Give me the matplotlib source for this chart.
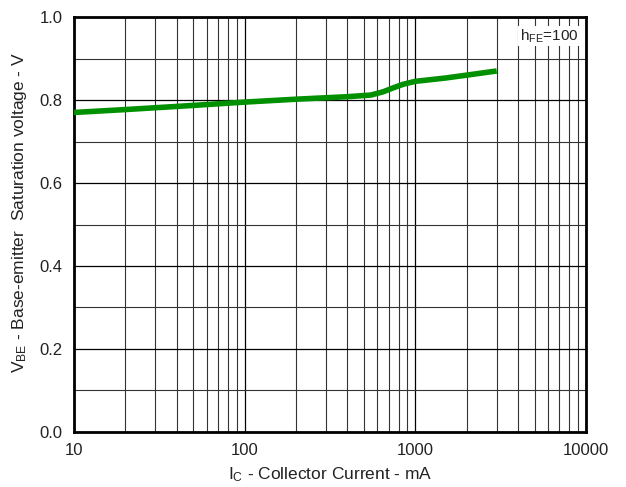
import matplotlib
matplotlib.use("Agg")
from matplotlib import pyplot as plt
from matplotlib.ticker import LogLocator, FixedLocator, NullFormatter

plt.rcParams['font.family'] = ['Liberation Sans', 'DejaVu Sans']
plt.rcParams['mathtext.fontset'] = 'custom'
plt.rcParams['mathtext.rm'] = 'Liberation Sans'
plt.rcParams['mathtext.it'] = 'Liberation Sans'

ic_ma = [10, 20, 50, 100, 200, 400, 550, 650, 750, 850, 1000, 1500, 2000, 3000]
vbe_sat = [0.770, 0.777, 0.787, 0.795, 0.802, 0.808, 0.812, 0.820, 0.830, 0.838, 0.845, 0.853, 0.860, 0.870]

x_ticks = [10, 100, 1000, 10000]
x_labels = ['10', '100', '1000', '10000']
y_ticks = [0.0, 0.2, 0.4, 0.6, 0.8, 1.0]

fig = plt.figure(figsize=(6.26, 4.87), dpi=100)
ax = fig.add_axes([0.118, 0.113, 0.818, 0.852])

ax.set_xscale('log')
ax.set_xlim(10, 10000)
ax.set_ylim(0, 1.0)

ax.xaxis.set_major_locator(FixedLocator(x_ticks))
ax.set_xticklabels(x_labels)
ax.xaxis.set_minor_locator(LogLocator(base=10, subs=range(2, 10)))
ax.xaxis.set_minor_formatter(NullFormatter())
ax.set_yticks(y_ticks)
ax.set_yticklabels([f'{v:.1f}' for v in y_ticks])
ax.yaxis.set_minor_locator(FixedLocator([0.1, 0.3, 0.5, 0.7, 0.9]))

ax.grid(which='major', color='black', linewidth=0.9)
ax.grid(which='minor', color='#333333', linewidth=0.8)
ax.tick_params(which='both', length=0, labelsize=12, colors='#222222')
ax.tick_params(axis='x', pad=8)
ax.tick_params(axis='y', pad=8)

for s in ax.spines.values():
    s.set_linewidth(2)

ax.plot(ic_ma, vbe_sat, color='#009000', linewidth=4, solid_capstyle='butt', zorder=3)

ax.text(0.985, 0.975, r'h$_{\mathregular{FE}}$=100', transform=ax.transAxes,
        ha='right', va='top', fontsize=11, color='#222222',
        bbox=dict(facecolor='white', edgecolor='none', pad=1))

ax.set_xlabel(r'I$_{\mathregular{C}}$ - Collector Current - mA', fontsize=12.5, color='#222222')
ax.xaxis.set_label_coords(0.5, -0.08)
ax.set_ylabel(r'V$_{\mathregular{BE}}$ - Base-emitter  Saturation voltage - V', fontsize=12.5, color='#222222')
ax.yaxis.set_label_coords(-0.087, 0.53)

fig.savefig('out.png', dpi=100)
